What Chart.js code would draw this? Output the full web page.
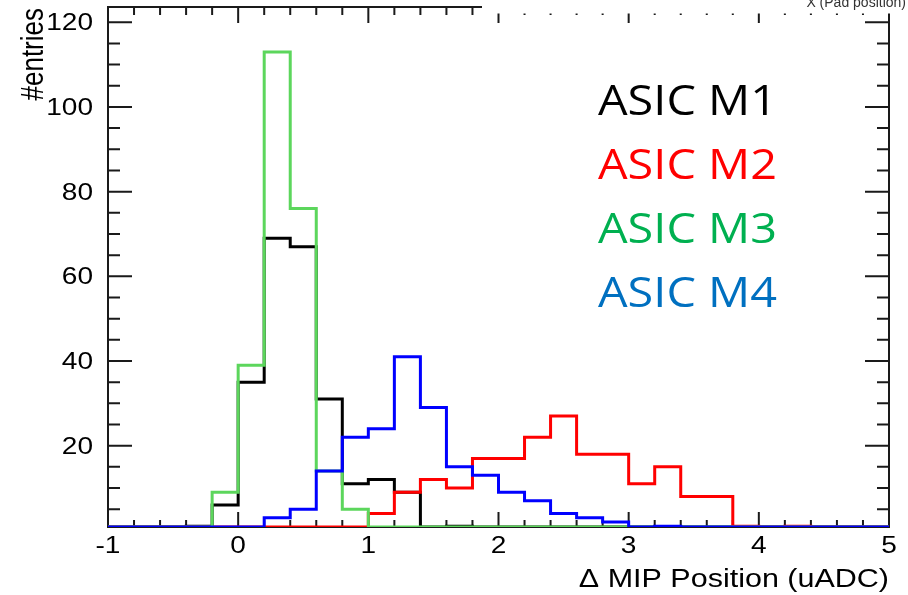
<!DOCTYPE html>
<html lang="en">
<head>
<meta charset="UTF-8">
<title>Delta MIP Position</title>
<script src="https://cdn.jsdelivr.net/npm/chart.js@4"></script>
<style>
  html, body { margin: 0; padding: 0; background: #fff; }
</style>
</head>
<body>
<canvas id="myChart" width="908" height="595"></canvas>
<script>
// histogram binning: 30 bins of 0.2 from -1 to 5
const binLow = -1;
const binWidth = 0.2;

// entries per bin (bin i starts at binLow + i*binWidth)
const asicM1 = [0, 0, 0, 1, 6, 35, 69, 67, 31, 11, 12, 9, 0, 1, 0, 0, 0, 0, 0, 0, 0, 0, 0, 0, 0, 0, 0, 0, 0, 0];
const asicM2 = [0, 0, 0, 0, 0, 0, 0, 0, 0, 0, 4, 9, 12, 10, 17, 17, 22, 27, 18, 18, 11, 15, 8, 8, 1, 0, 1, 0, 0, 0];
const asicM3 = [0, 0, 0, 0, 9, 39, 113, 76, 14, 5, 0, 0, 0, 0, 0, 0, 0, 0, 0, 0, 0, 0, 0, 0, 0, 0, 0, 0, 0, 0];
const asicM4 = [0, 0, 0, 0, 0, 0, 3, 5, 14, 22, 24, 41, 29, 15, 13, 9, 7, 4, 3, 2, 0, 1, 0, 0, 0, 0, 0, 0, 0, 0];

const seriesNames = ['ASIC M1', 'ASIC M2', 'ASIC M3', 'ASIC M4'];
const xTickLabels = ['-1', '0', '1', '2', '3', '4', '5'];
const yTickLabels = ['20', '40', '60', '80', '100', '120'];

const histColors = ['#000000', '#ff0000', '#5cd65c', '#0000ff'];
const textColors = ['#000000', '#ff0000', '#00b050', '#0070c0'];

const yMin = 0.8;
const yMax = 123.6;
const stretch = 1.22; // the picture is wider than tall, text too

// bin contents -> step points at the bin edges
function histPoints(vals) {
  const pts = vals.map((v, i) => ({ x: binLow + i * binWidth, y: Math.max(v, yMin) }));
  pts.push({ x: binLow + vals.length * binWidth, y: Math.max(vals[vals.length - 1], yMin) });
  return pts;
}

function wideText(ctx, text, x, y, align) {
  ctx.save();
  ctx.translate(x, y);
  ctx.scale(stretch, 1);
  ctx.textAlign = align;
  ctx.fillText(text, 0, 0);
  ctx.restore();
}

// ROOT style frame with ticks pointing inwards
const rootFrame = {
  id: 'rootFrame',
  beforeDatasetsDraw(chart) {
    const { ctx, chartArea: a, scales } = chart;
    const xs = scales.x, ys = scales.y;
    ctx.save();
    ctx.strokeStyle = '#1a1a1a';
    ctx.lineWidth = 2;
    ctx.strokeRect(a.left, a.top, a.right - a.left, a.bottom - a.top);
    ctx.beginPath();
    const nx = Math.round((xs.max - xs.min) / binWidth);
    for (let i = 0; i <= nx; i++) {
      const px = xs.getPixelForValue(xs.min + i * binWidth);
      const major = i % 5 === 0;
      ctx.moveTo(px, a.bottom);
      ctx.lineTo(px, a.bottom - (major ? 15 : 7));
      ctx.moveTo(px, a.top);
      ctx.lineTo(px, a.top + (major ? 16 : 8));
    }
    for (let v = 5; v <= 120; v += 5) {
      const py = ys.getPixelForValue(v);
      const len = v % 20 === 0 ? 24 : 12;
      ctx.moveTo(a.left, py);
      ctx.lineTo(a.left + len, py);
      ctx.moveTo(a.right, py);
      ctx.lineTo(a.right - len, py);
    }
    ctx.stroke();

    // tick labels
    ctx.fillStyle = '#000';
    ctx.font = '23px "Liberation Sans", Arial, sans-serif';
    ctx.textBaseline = 'alphabetic';
    xTickLabels.forEach(t => {
      wideText(ctx, t, xs.getPixelForValue(Number(t)), a.bottom + 26, 'center');
    });
    yTickLabels.forEach(t => {
      wideText(ctx, t, a.left - 15, ys.getPixelForValue(Number(t)) + 8, 'right');
    });

    // axis titles
    ctx.font = '25px "Liberation Sans", Arial, sans-serif';
    wideText(ctx, '\u0394 MIP Position (uADC)', a.right, 587, 'right');
    ctx.save();
    ctx.font = '26px "Liberation Sans", Arial, sans-serif';
    ctx.translate(43, a.top + 1);
    ctx.scale(stretch, 1);
    ctx.rotate(-Math.PI / 2);
    ctx.textAlign = 'right';
    ctx.fillText('#entries', 0, 0);
    ctx.restore();
    ctx.restore();
  },
  afterDraw(chart) {
    const { ctx, chartArea: a } = chart;
    ctx.save();
    // the pasted legend box hides the upper right part of the frame
    ctx.fillStyle = '#fff';
    ctx.fillRect(482, 0, chart.width - 482, a.top + 6.5);
    ctx.fillStyle = '#333';
    ctx.font = '14px "Liberation Sans", Arial, sans-serif';
    ctx.textAlign = 'right';
    ctx.fillText('X (Pad position)', 906, 7);

    ctx.font = '42px "Open Sans", "Noto Sans", sans-serif';
    ctx.textAlign = 'left';
    const sx = 179 / ctx.measureText(seriesNames[0]).width;
    seriesNames.forEach((name, i) => {
      ctx.save();
      ctx.fillStyle = textColors[i];
      ctx.translate(598, 115 + 64 * i);
      ctx.scale(sx, 1);
      ctx.fillText(name, 0, 0);
      ctx.restore();
    });
    ctx.restore();
  }
};

const allSeries = [asicM1, asicM2, asicM3, asicM4];

new Chart(document.getElementById('myChart'), {
  type: 'line',
  data: {
    datasets: allSeries.map((vals, i) => ({
      label: seriesNames[i],
      data: histPoints(vals),
      borderColor: histColors[i],
      borderWidth: 3,
      stepped: true,
      pointRadius: 0,
      fill: false,
      borderJoinStyle: 'miter',
      order: 4 - i
    }))
  },
  options: {
    responsive: false,
    animation: false,
    layout: { padding: { top: 7, right: 19, left: 0, bottom: 0 } },
    plugins: { legend: { display: false }, tooltip: { enabled: false } },
    scales: {
      x: {
        type: 'linear', min: -1, max: 5,
        grid: { display: false }, border: { display: false },
        ticks: { display: false },
        afterFit: s => { s.height = 68; }
      },
      y: {
        min: yMin, max: yMax,
        grid: { display: false }, border: { display: false },
        ticks: { display: false },
        afterFit: s => { s.width = 108; }
      }
    }
  },
  plugins: [rootFrame]
});
</script>
</body>
</html>
